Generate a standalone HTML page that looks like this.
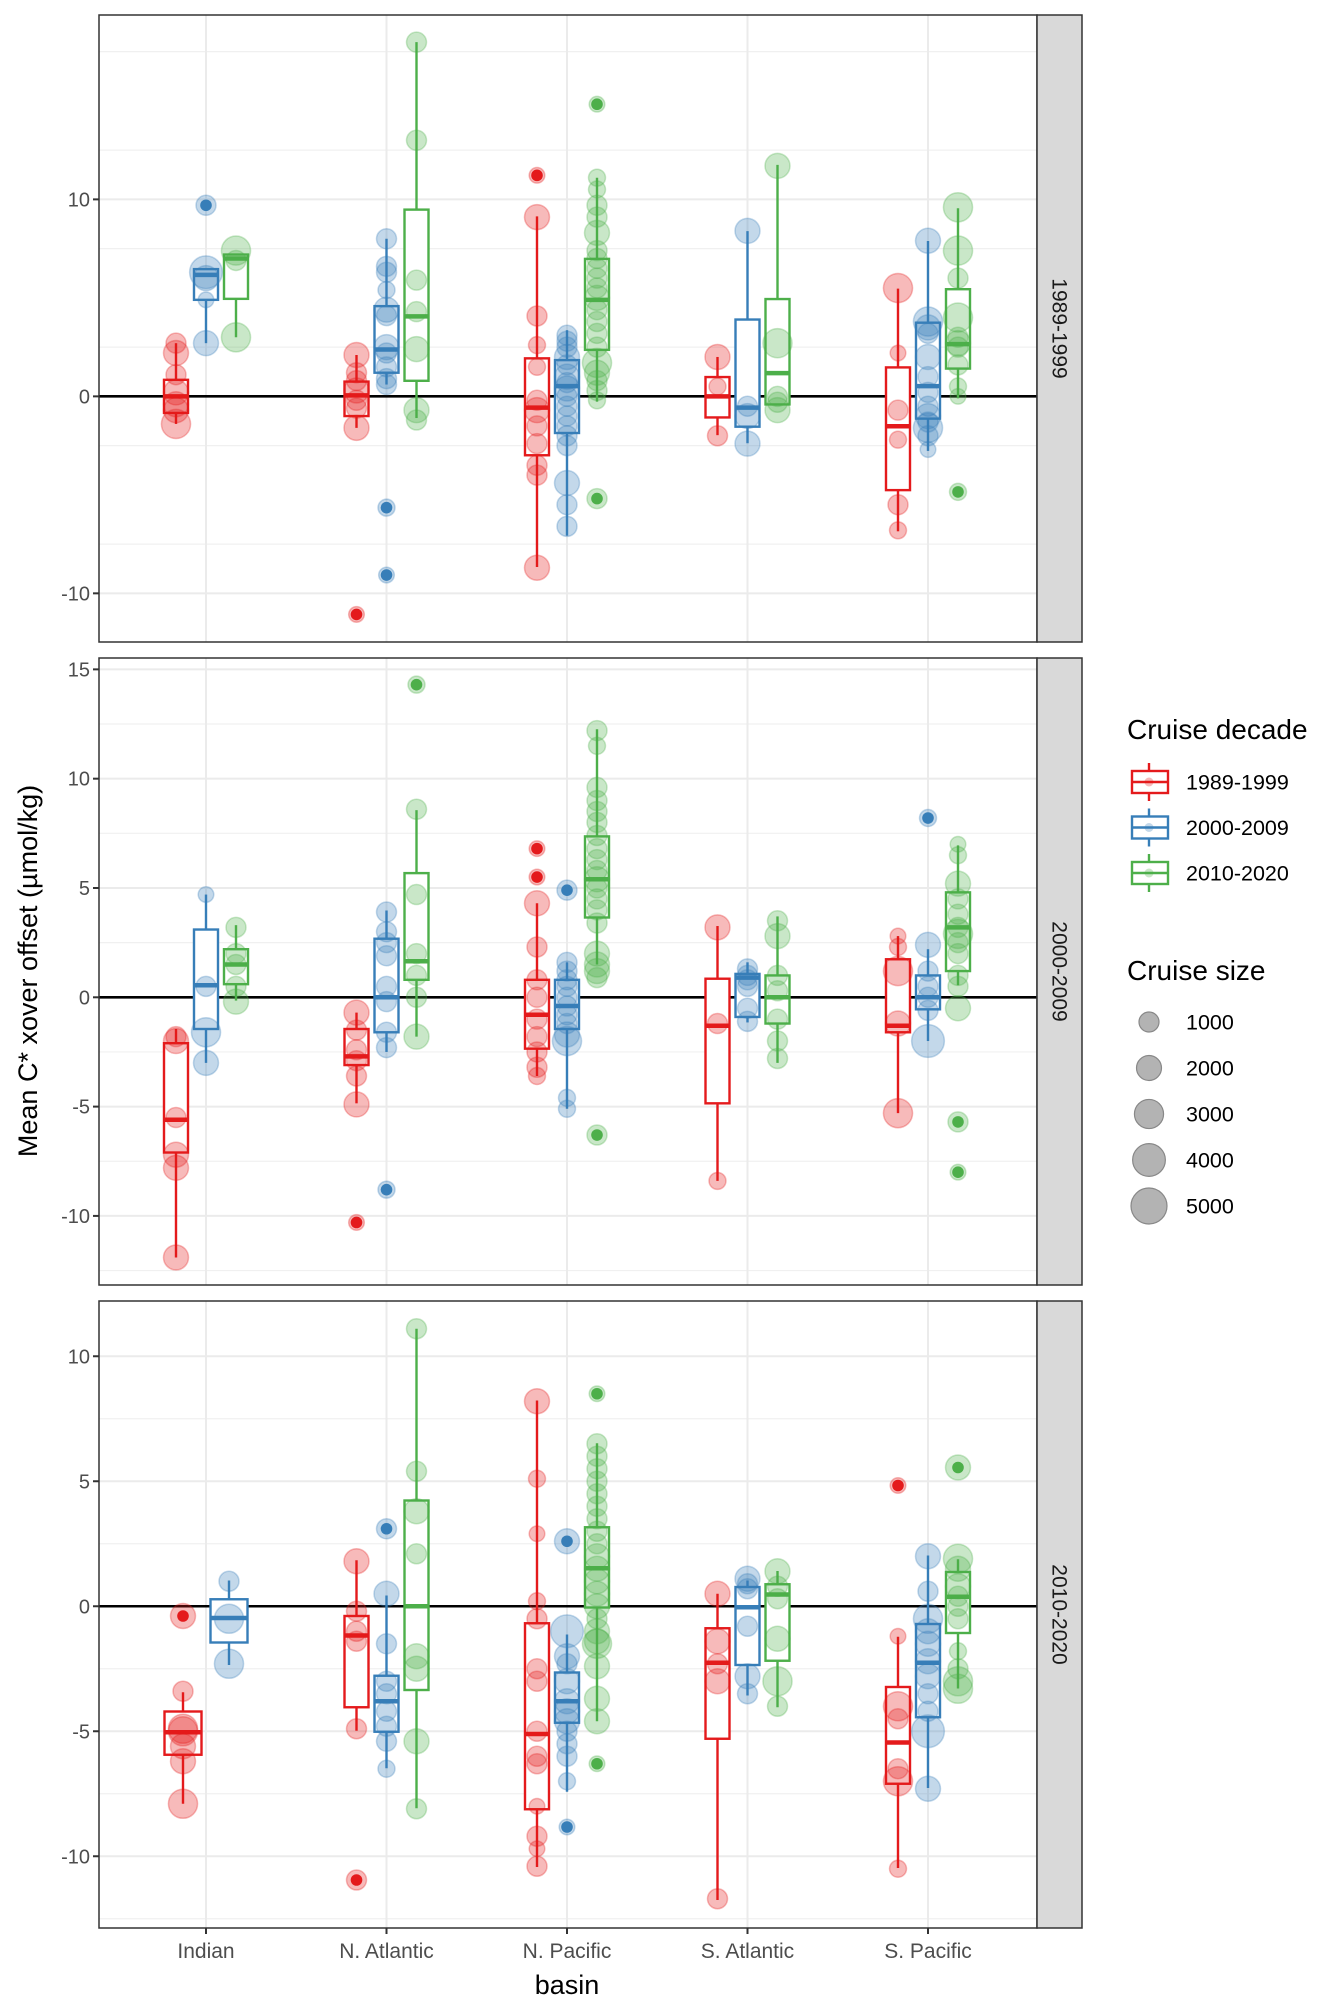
<!DOCTYPE html>
<html><head><meta charset="utf-8"><style>
html,body{margin:0;padding:0;background:#fff}
svg{display:block;font-family:"Liberation Sans",Arial,sans-serif}
</style></head><body>
<svg id="chart" width="1344" height="2016" xmlns="http://www.w3.org/2000/svg"></svg>
<script>
// ---------- DATA ----------
const basins = ["Indian","N. Atlantic","N. Pacific","S. Atlantic","S. Pacific"];
const decades = ["1989-1999","2000-2009","2010-2020"];
const panelLabels = ["1989-1999","2000-2009","2010-2020"];
const panelTicks = [[-10,0,10],[-10,-5,0,5,10,15],[-10,-5,0,5,10]];
const sizeLegendValues = [1000,2000,3000,4000,5000];
// box stats: [panel, basin, decade, lo, q1, med, q3, hi]
const boxStats = [
 [0,0,0,-1.4,-0.84,0,0.84,2.7],[0,0,1,2.7,4.9,6.17,6.46,6.46],[0,0,2,3.0,4.95,7.0,7.2,7.2],
 [0,1,0,-1.6,-1.0,0.05,0.75,2.1],[0,1,1,0.6,1.2,2.38,4.58,8.0],[0,1,2,-1.1,0.79,4.06,9.48,17.98],
 [0,2,0,-8.66,-2.99,-0.57,1.93,9.14],[0,2,1,-7.07,-1.86,0.52,1.84,3.36],[0,2,2,-0.27,2.36,4.9,6.98,11.1],
 [0,3,0,-1.97,-1.07,0,0.98,2.0],[0,3,1,-2.38,-1.54,-0.57,3.9,8.39],[0,3,2,-0.41,-0.41,1.18,4.94,11.75],
 [0,4,0,-6.85,-4.76,-1.52,1.47,5.47],[0,4,1,-2.77,-1.13,0.52,3.74,7.89],[0,4,2,-0.1,1.41,2.65,5.44,9.55],
 [1,0,0,-11.9,-7.1,-5.6,-2.1,-1.45],[1,0,1,-3.0,-1.45,0.55,3.1,4.7],[1,0,2,-0.15,0.6,1.5,2.2,3.3],
 [1,1,0,-4.85,-3.1,-2.7,-1.45,-0.7],[1,1,1,-2.5,-1.6,0,2.68,3.97],[1,1,2,-1.8,0.8,1.65,5.68,8.56],
 [1,2,0,-3.6,-2.35,-0.8,0.8,4.3],[1,2,1,-5.1,-1.45,-0.4,0.8,1.6],[1,2,2,1.5,3.65,5.4,7.36,12.26],
 [1,3,0,-8.4,-4.85,-1.3,0.85,3.26],[1,3,1,-1.15,-0.9,0.9,1.07,1.6],[1,3,2,-3.0,-1.2,0,1.0,3.7],
 [1,4,0,-5.3,-1.6,-1.3,1.74,2.8],[1,4,1,-2.0,-0.55,0,1.0,2.2],[1,4,2,0.55,1.2,3.2,4.8,6.95],
 [2,0,0,-7.9,-5.94,-5.04,-4.21,-3.44],[2,0,1,-2.35,-1.45,-0.47,0.28,1.03],
 [2,1,0,-4.98,-4.04,-1.17,-0.39,1.84],[2,1,1,-6.48,-5.02,-3.8,-2.78,0.43],[2,1,2,-8.08,-3.35,0,4.23,11.1],
 [2,2,0,-10.43,-8.12,-5.11,-0.68,8.23],[2,2,1,-7.42,-4.66,-3.8,-2.65,-1.13],[2,2,2,-4.6,-0.05,1.52,3.16,6.52],
 [2,3,0,-11.75,-5.3,-2.26,-0.88,0.5],[2,3,1,-3.57,-2.35,-0.04,0.77,1.03],[2,3,2,-4.04,-2.18,0.47,0.88,1.41],
 [2,4,0,-10.47,-7.1,-5.45,-3.23,-1.22],[2,4,1,-7.27,-4.44,-2.26,-0.71,2.03],[2,4,2,-3.29,-1.07,0.38,1.37,1.88]
];
// points: [panel, basin, decade, [[value, size(thousands)], ...]]
const pointRows = [
 [0,0,0,[[2.7,1],[2.2,2],[1.1,1],[0.2,2],[-0.4,2],[-0.7,2],[-1.4,3]]],
 [0,0,1,[[9.7,1],[6.3,4],[6.0,2],[4.9,0.3],[2.7,2]]],
 [0,0,2,[[7.4,3],[6.9,1],[3.0,3]]],
 [0,1,0,[[2.1,2],[1.2,1],[0.8,1],[0.3,2],[-0.2,1],[-0.6,1],[-1.6,2],[-11.07,0.3]]],
 [0,1,1,[[8.0,1],[6.6,1],[6.3,1],[5.4,0.5],[4.4,2],[4.1,1],[2.5,2],[2.2,1],[1.5,1],[0.9,1],[0.6,1],[-5.65,0.5],[-9.07,0.3]]],
 [0,1,2,[[17.98,1],[13.0,1],[5.9,1],[4.3,1],[2.4,2],[-0.7,2],[-1.2,1]]],
 [0,2,0,[[11.22,0.3],[9.1,2],[4.08,1],[2.6,0.5],[1.5,0.5],[-0.2,1],[-0.7,2],[-1.5,1],[-2.4,1],[-3.5,1],[-4.0,1],[-8.7,2]]],
 [0,2,1,[[3.1,1],[2.8,1],[2.5,1],[2.0,2],[1.6,1],[1.0,2],[0.7,1],[0.4,2],[0,1],[-0.5,1],[-1.0,1],[-1.5,1],[-2.0,1],[-2.5,1],[-4.4,2],[-5.5,1],[-6.6,1]]],
 [0,2,2,[[14.83,0.3],[11.1,0.5],[10.5,0.5],[9.7,1],[9.1,1],[8.3,2],[7.4,1],[7.0,1],[6.5,1],[6.0,1],[5.5,1],[5.0,2],[4.4,1],[3.8,1],[3.2,1],[2.5,1],[1.7,3],[1.2,2],[0.8,1],[0.3,1],[-0.2,0.5],[-5.19,1]]],
 [0,3,0,[[2.0,2],[0.5,0.5],[-2.0,1]]],
 [0,3,1,[[8.4,2],[-0.5,1],[-1.0,2],[-2.4,2]]],
 [0,3,2,[[11.7,2],[2.7,3],[0,1],[-0.3,1],[-0.7,2]]],
 [0,4,0,[[5.5,3],[2.2,0.3],[-0.7,1],[-2.2,0.5],[-5.5,1],[-6.8,0.5]]],
 [0,4,1,[[7.9,2],[3.8,3],[3.5,2],[3.2,1],[2.0,2],[1.0,1],[0.2,1],[-0.5,1],[-1.0,2],[-1.3,1],[-1.6,3],[-2.0,1],[-2.7,0.3]]],
 [0,4,2,[[9.6,3],[7.4,3],[6.0,1],[4.0,3],[3.0,1],[2.7,2],[2.5,1],[1.6,1],[0.5,0.5],[0,0.3],[-4.85,0.5]]],
 [1,0,0,[[-1.8,1],[-2.0,2],[-5.5,1],[-7.2,2],[-7.8,2],[-11.9,2]]],
 [1,0,1,[[4.7,0.3],[0.5,1],[-1.6,3],[-3.0,2]]],
 [1,0,2,[[3.2,1],[2.0,1],[1.5,1],[0.5,1],[-0.2,2]]],
 [1,1,0,[[-0.7,2],[-1.5,1],[-2.4,1],[-2.9,1],[-3.6,1],[-4.9,2],[-10.3,0.3]]],
 [1,1,1,[[3.9,1],[3.0,1],[2.5,1],[1.9,1],[0.5,1],[-0.2,1],[-1.6,1],[-2.3,1],[-8.8,0.5]]],
 [1,1,2,[[14.3,0.5],[8.6,1],[4.7,1],[2.0,1],[1.0,1],[0,1],[-1.8,2]]],
 [1,2,0,[[6.8,0.3],[5.5,0.3],[4.3,2],[2.3,1],[0.8,1],[0,1],[-1,1],[-1.8,1],[-2.5,1],[-3.2,1],[-3.6,0.5]]],
 [1,2,1,[[4.9,1],[1.6,1],[1.2,1],[0.8,1],[0.5,1],[0,1],[-0.4,1],[-0.8,1],[-1.2,1],[-1.7,2],[-2.0,3],[-4.6,0.5],[-5.1,0.5]]],
 [1,2,2,[[12.2,1],[11.5,0.5],[9.6,1],[9.0,1],[8.5,1],[8.0,1],[7.4,1],[6.8,1],[6.3,1],[5.8,1],[5.4,2],[5.0,1],[4.5,1],[4.0,1],[3.4,1],[2.0,2],[1.5,2],[1.2,2],[0.9,1],[-6.3,1]]],
 [1,3,0,[[3.2,2],[-1.2,1],[-8.4,0.5]]],
 [1,3,1,[[1.3,1],[1.0,1],[0.8,1],[0.5,1],[-0.5,1],[-1.1,1]]],
 [1,3,2,[[3.5,1],[2.8,2],[1.0,1],[0.3,1],[-1.0,1],[-2.0,1],[-2.8,1]]],
 [1,4,0,[[2.8,0.3],[2.3,0.5],[1.2,3],[-1.2,2],[-5.3,3]]],
 [1,4,1,[[8.2,0.5],[2.4,2],[1.2,1],[0.5,1],[0,1],[-0.6,1],[-2.0,4]]],
 [1,4,2,[[7.0,0.3],[6.5,0.5],[5.2,2],[4.5,1],[3.8,1],[3.2,1],[2.9,3],[2.5,1],[2.0,1],[1.0,1],[0.5,1],[-0.5,2],[-5.7,1],[-8.0,0.3]]],
 [2,0,0,[[-0.39,2],[-3.4,1],[-4.9,3],[-5.0,3],[-5.6,2],[-6.2,2],[-7.9,3]]],
 [2,0,1,[[1.0,1],[-0.5,3],[-2.3,3]]],
 [2,1,0,[[1.8,2],[-0.2,1],[-1.0,1],[-1.4,1],[-4.9,1],[-10.95,1]]],
 [2,1,1,[[3.1,1],[0.5,2],[-1.5,1],[-3.0,1],[-3.5,1],[-4.2,1],[-4.8,1],[-5.4,1],[-6.5,0.5]]],
 [2,1,2,[[11.1,1],[5.4,1],[3.8,2],[2.1,1],[-2.0,2],[-2.5,2],[-5.4,2],[-8.1,1]]],
 [2,2,0,[[8.2,2],[5.1,0.5],[2.9,0.3],[0.2,0.5],[-0.5,1],[-2.5,1],[-3.0,1],[-5.0,1],[-6.0,1],[-6.3,1],[-8.0,0.3],[-9.2,1],[-9.7,0.3],[-10.4,1]]],
 [2,2,1,[[2.6,2],[-1.0,4],[-2.0,2],[-2.3,1],[-3.0,2],[-3.8,2],[-4.2,2],[-4.6,2],[-5.0,1],[-5.5,1],[-6.0,1],[-7.0,0.5],[-8.83,0.3]]],
 [2,2,2,[[8.5,0.3],[6.5,1],[6.0,1],[5.5,1],[5.0,1],[4.5,1],[4.0,1],[3.5,1],[3.0,1],[2.5,1],[2.0,2],[1.5,2],[1.0,2],[0.5,2],[0,2],[-0.5,1],[-1.0,2],[-1.5,3],[-1.4,2],[-2.4,2],[-3.7,2],[-4.6,2],[-6.3,0.3]]],
 [2,3,0,[[0.5,2],[-1.4,2],[-2.3,1],[-3.0,2],[-11.7,1]]],
 [2,3,1,[[1.1,2],[0.9,1],[0.7,1],[-0.8,1],[-2.8,2],[-3.5,1]]],
 [2,3,2,[[1.4,2],[0.8,1],[0.3,1],[-1.3,2],[-3.0,3],[-4.0,1]]],
 [2,4,0,[[4.83,0.3],[-1.2,0.3],[-4.0,3],[-4.5,1],[-6.5,1],[-7.0,3],[-10.5,0.5]]],
 [2,4,1,[[2.0,2],[0.6,1],[-0.5,3],[-1.0,2],[-1.5,2],[-2.2,2],[-2.8,2],[-3.5,1],[-4.2,1],[-5.0,4],[-7.3,2]]],
 [2,4,2,[[5.55,2],[1.9,3],[1.5,2],[0.8,2],[0.4,1],[0,1],[-0.5,1],[-1.8,0.5],[-2.5,1],[-3.0,3],[-3.3,3]]]
];
// outliers drawn as solid dots: [panel, basin, decade, value]
const outlierList = [
 [0,0,1,9.7],[0,1,0,-11.07],[0,1,1,-5.65],[0,1,1,-9.07],[0,2,0,11.22],[0,2,2,14.83],[0,2,2,-5.19],[0,4,2,-4.85],
 [1,1,0,-10.3],[1,1,1,-8.8],[1,1,2,14.3],[1,2,0,6.8],[1,2,0,5.5],[1,2,1,4.9],[1,2,2,-6.3],[1,4,1,8.2],[1,4,2,-5.7],[1,4,2,-8.0],
 [2,0,0,-0.39],[2,1,0,-10.95],[2,1,1,3.1],[2,2,1,2.6],[2,2,1,-8.83],[2,2,2,8.5],[2,2,2,-6.3],[2,4,0,4.83],[2,4,2,5.55]
];

// ---------- LAYOUT ----------
const colors = ["#E41A1C","#377EB8","#4DAF4A"];
const pL = 99, pR = 1037, stripR = 1082;
const panelY = [[15,642],[658,1285],[1301,1928]];
const panelRange = [[-12.47,19.36],[-13.16,15.52],[-12.87,12.21]];
const NS = "http://www.w3.org/2000/svg";
const svg = document.getElementById('chart');
function el(tag, attrs, parent){
  const e = document.createElementNS(NS, tag);
  for (const k in attrs) e.setAttribute(k, attrs[k]);
  (parent||svg).appendChild(e); return e;
}
function xBasin(i){ return 206 + 180.5*i; }
function yScale(p, v){
  const [t,b] = panelY[p], [lo,hi] = panelRange[p];
  return b - (v-lo)/(hi-lo)*(b-t);
}
function rSize(k){ return Math.sqrt(44 + 56*k); }
function groupsIn(p, b){
  return boxStats.filter(s=>s[0]===p && s[1]===b).map(s=>s[2]);
}
function xGroup(p, b, d){
  const g = groupsIn(p,b), n = g.length, idx = g.indexOf(d);
  const off = n===3 ? [-30,0,30][idx] : (n===2 ? [-23,23][idx] : 0);
  return xBasin(b) + off;
}
function boxW(p,b){ return groupsIn(p,b).length===3 ? 24 : 37; }
function isOutlier(p,b,d,v){ return outlierList.some(o=>o[0]===p&&o[1]===b&&o[2]===d&&Math.abs(o[3]-v)<1e-6); }

for (let p=0;p<3;p++){
  const [t,b] = panelY[p];
  const g = el('g', {});
  
  
  el('rect',{x:pL,y:t,width:pR-pL,height:b-t,fill:'#fff'},g);
  const [lo,hi] = panelRange[p];
  for (let v=Math.ceil(lo/2.5)*2.5; v<=hi; v+=2.5){
    if (Math.abs(v%5)>0.01) el('line',{x1:pL,x2:pR,y1:yScale(p,v),y2:yScale(p,v),stroke:'#f0f0f0','stroke-width':1.2},g);
  }
  panelTicks[p].forEach(v=>{
    const y = yScale(p,v);
    el('line',{x1:pL,x2:pR,y1:y,y2:y,stroke:'#ebebeb','stroke-width':2},g);
    el('line',{x1:pL-6,x2:pL,y1:y,y2:y,stroke:'#333','stroke-width':2},g);
    const tx = el('text',{x:pL-9,y:y+7,'text-anchor':'end','font-size':20,fill:'#4d4d4d'},g);
    tx.textContent = v;
    
    
  });
  basins.forEach((bn,i)=>{
    el('line',{x1:xBasin(i),x2:xBasin(i),y1:t,y2:b,stroke:'#ebebeb','stroke-width':2},g);
  });
  el('line',{x1:pL,x2:pR,y1:yScale(p,0),y2:yScale(p,0),stroke:'#000','stroke-width':2.6},g);
  boxStats.filter(s=>s[0]===p).forEach(s=>{
    const [, bi, d, wlo, q1, med, q3, whi] = s;
    const x = xGroup(p,bi,d), w = boxW(p,bi), c = colors[d];
    const bg = el('g',{},g);
    
    
    el('line',{x1:x,x2:x,y1:yScale(p,whi),y2:yScale(p,q3),stroke:c,'stroke-width':2.4},bg);
    el('line',{x1:x,x2:x,y1:yScale(p,q1),y2:yScale(p,wlo),stroke:c,'stroke-width':2.4},bg);
    el('rect',{x:x-w/2,y:yScale(p,q3),width:w,height:Math.max(1,yScale(p,q1)-yScale(p,q3)),fill:'#fff',stroke:c,'stroke-width':2.4},bg);
    el('line',{x1:x-w/2,x2:x+w/2,y1:yScale(p,med),y2:yScale(p,med),stroke:c,'stroke-width':4.5},bg);
  });
  pointRows.filter(r=>r[0]===p).forEach(r=>{
    const [, bi, d, pts] = r;
    const x = xGroup(p,bi,d), c = colors[d];
    pts.forEach(pt=>{
      const y = yScale(p,pt[0]);
      const ci = el('circle',{cx:x,cy:y,r:rSize(pt[1]),fill:c,'fill-opacity':0.3,stroke:c,'stroke-opacity':0.3,'stroke-width':1.5},g);
      
      
      if (isOutlier(p,bi,d,pt[0])){
        const o = el('circle',{cx:x,cy:y,r:5.8,fill:c},g);
        
        
      }
    });
  });
  el('rect',{x:pL,y:t,width:pR-pL,height:b-t,fill:'none',stroke:'#333','stroke-width':1.5},g);
  el('rect',{x:pR,y:t,width:stripR-pR,height:b-t,fill:'#d9d9d9',stroke:'#333','stroke-width':1.5},g);
  const cy = (t+b)/2;
  const st = el('text',{x:1059,y:cy,'text-anchor':'middle','dominant-baseline':'central','font-size':21,fill:'#1a1a1a',transform:`rotate(90 1059 ${cy})`},g);
  st.textContent = panelLabels[p];
  
  
}
basins.forEach((bn,i)=>{
  el('line',{x1:xBasin(i),x2:xBasin(i),y1:1928,y2:1934,stroke:'#333','stroke-width':2});
  const t = el('text',{x:xBasin(i),y:1958,'text-anchor':'middle','font-size':21,fill:'#4d4d4d'});
  t.textContent = bn;
  
  
});
</script>
<script>
const s2 = document.getElementById('chart');
function mk(tag, attrs){ const e=document.createElementNS("http://www.w3.org/2000/svg",tag); for(const k in attrs) e.setAttribute(k,attrs[k]); s2.appendChild(e); return e; }
const xt = mk('text',{x:567,y:1994,'text-anchor':'middle','font-size':27,fill:'#000'}); xt.textContent='basin';


const yt = mk('text',{x:37,y:971,'text-anchor':'middle','font-size':27,fill:'#000',transform:'rotate(-90 37 971)'}); yt.textContent='Mean C* xover offset (µmol/kg)';


const lt = mk('text',{x:1127,y:739,'font-size':28,fill:'#000'}); lt.textContent='Cruise decade';


decades.forEach((d,i)=>{
  const y = 782 + 45.5*i, c = colors[i];
  mk('line',{x1:1149,x2:1149,y1:y-19,y2:y+19,stroke:c,'stroke-width':2.4});
  const r = mk('rect',{x:1132,y:y-11,width:36,height:22,fill:'#fff',stroke:c,'stroke-width':2.4});
  
  
  mk('line',{x1:1132,x2:1168,y1:y,y2:y,stroke:c,'stroke-width':2.4});
  mk('circle',{cx:1149,cy:y,r:4.5,fill:c,'fill-opacity':0.3});
  const t = mk('text',{x:1186,y:y+7.5,'font-size':21.5,fill:'#000'}); t.textContent=d;
  
  
});
const lt2 = mk('text',{x:1127,y:980,'font-size':28,fill:'#000'}); lt2.textContent='Cruise size';


sizeLegendValues.forEach((v,i)=>{
  const y = 1022 + 46*i;
  const c = mk('circle',{cx:1149,cy:y,r:Math.sqrt(44+56*v/1000),fill:'#b3b3b3',stroke:'#888','stroke-width':1.2});
  
  
  const t = mk('text',{x:1186,y:y+7.5,'font-size':21.5,fill:'#000'}); t.textContent=v;
  
  
});
</script>
</body></html>
